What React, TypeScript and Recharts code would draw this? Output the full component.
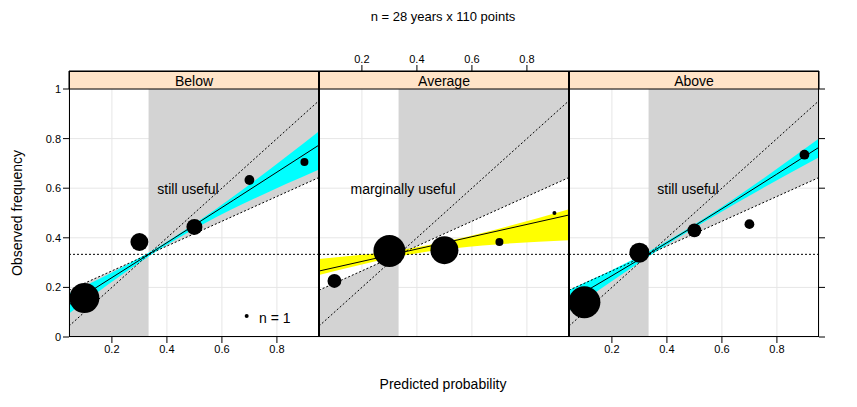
import React from "react";
import { Area, CartesianGrid, ComposedChart, Line, ReferenceArea, ReferenceLine, Scatter, XAxis, YAxis } from "recharts";

const CLIM = 1 / 3;
const X_MIN = 0.044;
const X_MAX = 0.953;
const Y_TOP = 1 + 18 / 248;

const panels = ["Below", "Average", "Above"];
const notes = ["still useful", "marginally useful", "still useful"];
const xTicks = [0.2, 0.4, 0.6, 0.8];
const yTicks = [0, 0.2, 0.4, 0.6, 0.8, 1];

const pointX = [0.1, 0.3, 0.5, 0.7, 0.9];
const pointY = [
  [0.157, 0.383, 0.444, 0.633, 0.706],
  [0.226, 0.347, 0.35, 0.383, 0.5],
  [0.14, 0.34, 0.43, 0.455, 0.735],
];
const pointN = [
  [56, 20, 16, 6, 4],
  [12, 64, 49, 4, 1],
  [64, 25, 12, 6, 6],
];

const bandX = [X_MIN, CLIM, X_MAX];
const fitY = [
  [0.13, 0.333, 0.774],
  [0.266, 0.338, 0.492],
  [0.145, 0.335, 0.765],
];
const bandLo = [
  [0.095, 0.325, 0.675],
  [0.25, 0.325, 0.39],
  [0.105, 0.325, 0.725],
];
const bandHi = [
  [0.175, 0.34, 0.83],
  [0.315, 0.35, 0.515],
  [0.19, 0.345, 0.8],
];
const bandColor = ["#00ffff", "#ffff00", "#00ffff"];

const noSkill = (x: number) => (x + CLIM) / 2;
const greyRows = [
  { x: X_MIN, g: [0, noSkill(X_MIN)] },
  { x: CLIM, g: [0, CLIM] },
  { x: CLIM, g: [CLIM, 1] },
  { x: X_MAX, g: [noSkill(X_MAX), 1] },
];
const diagRows = [X_MIN, X_MAX].map((x) => ({ x, y: x }));
const noSkillRows = [X_MIN, X_MAX].map((x) => ({ x, y: noSkill(x) }));

const font = "'Liberation Sans', Arial, sans-serif";
const tick = { fontSize: 11, fill: "#000", fontFamily: font };

function Dot(props: any) {
  const { cx, cy, payload } = props;
  return <circle cx={cx} cy={cy} r={2 * Math.sqrt(payload.n)} fill="#000" />;
}

function Panel({ i }: { i: number }) {
  const left = i === 0 ? 0 : 69 + 250 * i;
  const width = i === 0 ? 319 : i === 1 ? 250 : 280;
  const pts = pointX.map((x, k) => ({ x, y: pointY[i][k], n: pointN[i][k] }));
  const band = bandX.map((x, k) => ({ x, r: [bandLo[i][k], bandHi[i][k]], f: fitY[i][k] }));
  const legend = i === 0 ? [{ x: 0.69, y: 0.085, n: 1 }] : [];
  const labelled = i === 1 ? "top" : "bottom";
  const plain = i === 1 ? "bottom" : "top";
  return (
    <div style={{ position: "absolute", left, top: 0 }}>
      <ComposedChart width={width} height={407} margin={{ top: 41, bottom: 40, left: 0, right: 0 }}>
        <CartesianGrid stroke="#e6e6e6" xAxisId="a" />
        <XAxis xAxisId="a" type="number" dataKey="x" domain={[X_MIN, X_MAX]} ticks={xTicks} orientation={labelled}
          height={30} tick={tick} tickSize={6} axisLine={false} tickLine={{ stroke: "#000" }} allowDataOverflow />
        <XAxis xAxisId="b" type="number" dataKey="x" domain={[X_MIN, X_MAX]} ticks={xTicks} orientation={plain}
          height={30} tick={false} tickSize={6} axisLine={false} tickLine={{ stroke: "#000" }} allowDataOverflow />
        {i === 0 && (
          <YAxis type="number" domain={[0, Y_TOP]} ticks={yTicks} width={69} tick={tick} tickSize={6}
            axisLine={false} tickLine={{ stroke: "#000" }} allowDataOverflow />
        )}
        {i === 1 && <YAxis type="number" domain={[0, Y_TOP]} ticks={yTicks} hide allowDataOverflow />}
        {i === 2 && (
          <YAxis type="number" domain={[0, Y_TOP]} ticks={yTicks} width={30} orientation="right"
            tickFormatter={() => ""} tickSize={6} axisLine={false} tickLine={{ stroke: "#000" }} allowDataOverflow />
        )}
        <Area xAxisId="a" data={greyRows} dataKey="g" type="linear" fill="#d3d3d3" fillOpacity={1} stroke="none" isAnimationActive={false} />
        <Area xAxisId="a" data={band} dataKey="r" type="monotone" fill={bandColor[i]} fillOpacity={1} stroke="none" isAnimationActive={false} />
        <Line xAxisId="a" data={band} dataKey="f" type="monotone" stroke="#000" strokeWidth={1} dot={false} isAnimationActive={false} />
        <Line xAxisId="a" data={diagRows} dataKey="y" stroke="#000" strokeDasharray="2 2" strokeWidth={1} dot={false} isAnimationActive={false} />
        <Line xAxisId="a" data={noSkillRows} dataKey="y" stroke="#000" strokeDasharray="2 2" strokeWidth={1} dot={false} isAnimationActive={false} />
        <ReferenceLine xAxisId="a" y={CLIM} stroke="#000" strokeDasharray="2 2" />
        <Scatter xAxisId="a" data={pts} dataKey="y" shape={<Dot />} isAnimationActive={false} />
        <Scatter xAxisId="a" data={legend} dataKey="y" shape={<Dot />} isAnimationActive={false} />
        <ReferenceArea xAxisId="a" y1={1} y2={Y_TOP} x1={X_MIN} x2={X_MAX} fill="#ffe4c8" fillOpacity={1} stroke="#000" />
      </ComposedChart>
    </div>
  );
}

const textStyle: React.CSSProperties = { position: "absolute", fontFamily: font, fontSize: 14, color: "#000", whiteSpace: "nowrap" };

export default function App() {
  return (
    <div style={{ position: "relative", width: 857, height: 407, margin: "-8px 0 0 -8px" }}>
      {panels.map((_, i) => (
        <Panel key={i} i={i} />
      ))}
      {panels.map((p, i) => (
        <div key={p} style={{ position: "absolute", left: 69 + 250 * i, top: 71, width: 250, height: 266, border: "1px solid #000", boxSizing: "border-box", pointerEvents: "none" }}>
          <div style={{ ...textStyle, left: 0, top: 1, width: 248, textAlign: "center" }}>{p}</div>
          <div style={{ ...textStyle, left: 0, top: 109, width: i === 1 ? 166 : 236, textAlign: "center" }}>{notes[i]}</div>
        </div>
      ))}
      <div style={{ ...textStyle, left: 259, top: 310 }}>n = 1</div>
      <div style={{ ...textStyle, left: 0, top: 9, width: 886, textAlign: "center", fontSize: 13 }}>n = 28 years x 110 points</div>
      <div style={{ ...textStyle, left: 0, top: 376, width: 886, textAlign: "center" }}>Predicted probability</div>
      <div style={{ ...textStyle, left: 17, top: 213, transform: "translate(-50%, -50%) rotate(-90deg)" }}>Observed frequency</div>
    </div>
  );
}
